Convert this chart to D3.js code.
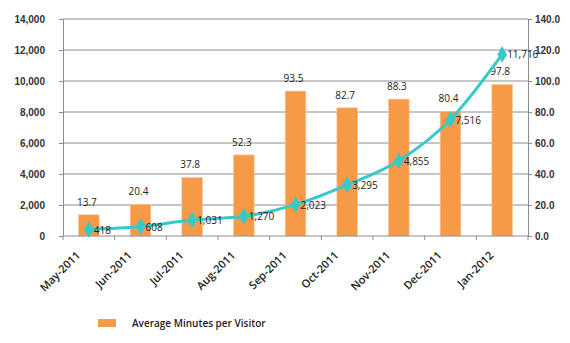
<!DOCTYPE html>
<html>
<head>
<meta charset="utf-8">
<script src="https://cdn.jsdelivr.net/npm/d3@7"></script>
<style>
  body { margin: 0; background: #fff; }
  svg { display: block; font-family: "Open Sans", "Noto Sans", sans-serif; }
  .tick text { font-size: 10px; fill: #333; font-weight: 600; }
  .lbl { font-size: 10px; fill: #222; }
</style>
</head>
<body>
<svg width="570" height="343"></svg>
<script>
var months = ["May-2011", "Jun-2011", "Jul-2011", "Aug-2011", "Sep-2011", "Oct-2011", "Nov-2011", "Dec-2011", "Jan-2012"];
var minutes = [13.7, 20.4, 37.8, 52.3, 93.5, 82.7, 88.3, 80.4, 97.8];
var visitors = [418, 608, 1031, 1270, 2023, 3295, 4855, 7516, 11716];
var leftTicks = [0, 2000, 4000, 6000, 8000, 10000, 12000, 14000];
var rightTicks = [0, 20, 40, 60, 80, 100, 120, 140];

var svg = d3.select("svg");
var mLeft = 63, mRight = 528, mTop = 19, mBottom = 236;

var x = d3.scaleBand().domain(months).range([mLeft, mRight]).paddingInner(0.6).paddingOuter(0.3);
var xc = d3.scaleBand().domain(months).range([mLeft, mRight]);
var yL = d3.scaleLinear().domain([0, 14000]).range([mBottom, mTop]);
var yR = d3.scaleLinear().domain([0, 140]).range([mBottom, mTop]);

// gridlines
svg.append("g").selectAll("line")
    .data(leftTicks.slice(1))
    .enter().append("line")
    .attr("x1", mLeft).attr("x2", mRight)
    .attr("y1", d => yL(d)).attr("y2", d => yL(d))
    .attr("stroke", "#8c8c8c").attr("stroke-width", 1);

// axes
var axL = svg.append("g").attr("transform", "translate(" + mLeft + ",0)")
    .call(d3.axisLeft(yL).tickValues(leftTicks).tickSize(4).tickPadding(14).tickFormat(d3.format(",")));
var axR = svg.append("g").attr("transform", "translate(" + mRight + ",0)")
    .call(d3.axisRight(yR).tickValues(rightTicks).tickSize(4).tickPadding(3).tickFormat(d3.format(".1f")));
[axL, axR].forEach(function (a) {
  a.select(".domain").attr("stroke", "#8c8c8c");
  a.selectAll(".tick line").attr("stroke", "#8c8c8c");
});

// bars
svg.append("g").selectAll("rect")
    .data(minutes)
    .enter().append("rect")
    .attr("x", (d, i) => x(months[i]))
    .attr("width", x.bandwidth())
    .attr("y", d => yR(d))
    .attr("height", d => mBottom - yR(d))
    .attr("fill", "#f79a48")
    .attr("stroke", "#fbc89a").attr("stroke-width", 0.6);

svg.append("g").selectAll("text")
    .data(minutes)
    .enter().append("text")
    .attr("class", "lbl")
    .attr("x", (d, i) => xc(months[i]) + xc.bandwidth() / 2 - 2)
    .attr("y", d => yR(d) - 9)
    .attr("text-anchor", "middle")
    .text(d => d.toFixed(1));

// x axis
var axB = svg.append("g").attr("transform", "translate(0," + mBottom + ")");
axB.append("line").attr("x1", mLeft).attr("x2", mRight).attr("stroke", "#8c8c8c");
axB.selectAll(".tk")
    .data(months.concat(["end"]))
    .enter().append("line")
    .attr("x1", (d, i) => mLeft + i * xc.bandwidth())
    .attr("x2", (d, i) => mLeft + i * xc.bandwidth())
    .attr("y1", 0).attr("y2", 4)
    .attr("stroke", "#8c8c8c");
axB.selectAll(".xl")
    .data(months)
    .enter().append("text")
    .attr("class", "lbl")
    .style("font-weight", 600)
    .style("font-size", "11px")
    .attr("text-anchor", "end")
    .attr("transform", d => "translate(" + (xc(d) + xc.bandwidth() / 2 - 8) + ",20) rotate(-45)")
    .text(d => d);

// line
var line = d3.line()
    .x((d, i) => xc(months[i]) + xc.bandwidth() / 2)
    .y(d => yL(d))
    .curve(d3.curveMonotoneX);

svg.append("path")
    .datum(visitors)
    .attr("d", line)
    .attr("fill", "none")
    .attr("stroke", "#36c9c9")
    .attr("stroke-width", 3);

svg.append("g").selectAll("path")
    .data(visitors)
    .enter().append("path")
    .attr("d", d3.symbol().type(d3.symbolDiamond).size(80))
    .attr("transform", (d, i) => "translate(" + (xc(months[i]) + xc.bandwidth() / 2) + "," + yL(d) + ")")
    .attr("fill", "#36c9c9");

svg.append("g").selectAll("text")
    .data(visitors)
    .enter().append("text")
    .attr("class", "lbl")
    .attr("x", (d, i) => xc(months[i]) + xc.bandwidth() / 2 + 5)
    .attr("y", d => yL(d) + 4)
    .text(d => d3.format(",")(d));

// legend
svg.append("rect").attr("x", 98).attr("y", 319).attr("width", 18).attr("height", 8).attr("fill", "#f79a48");
svg.append("text").attr("class", "lbl").style("font-weight", 600)
    .attr("x", 132).attr("y", 327).text("Average Minutes per Visitor");
</script>
</body>
</html>
